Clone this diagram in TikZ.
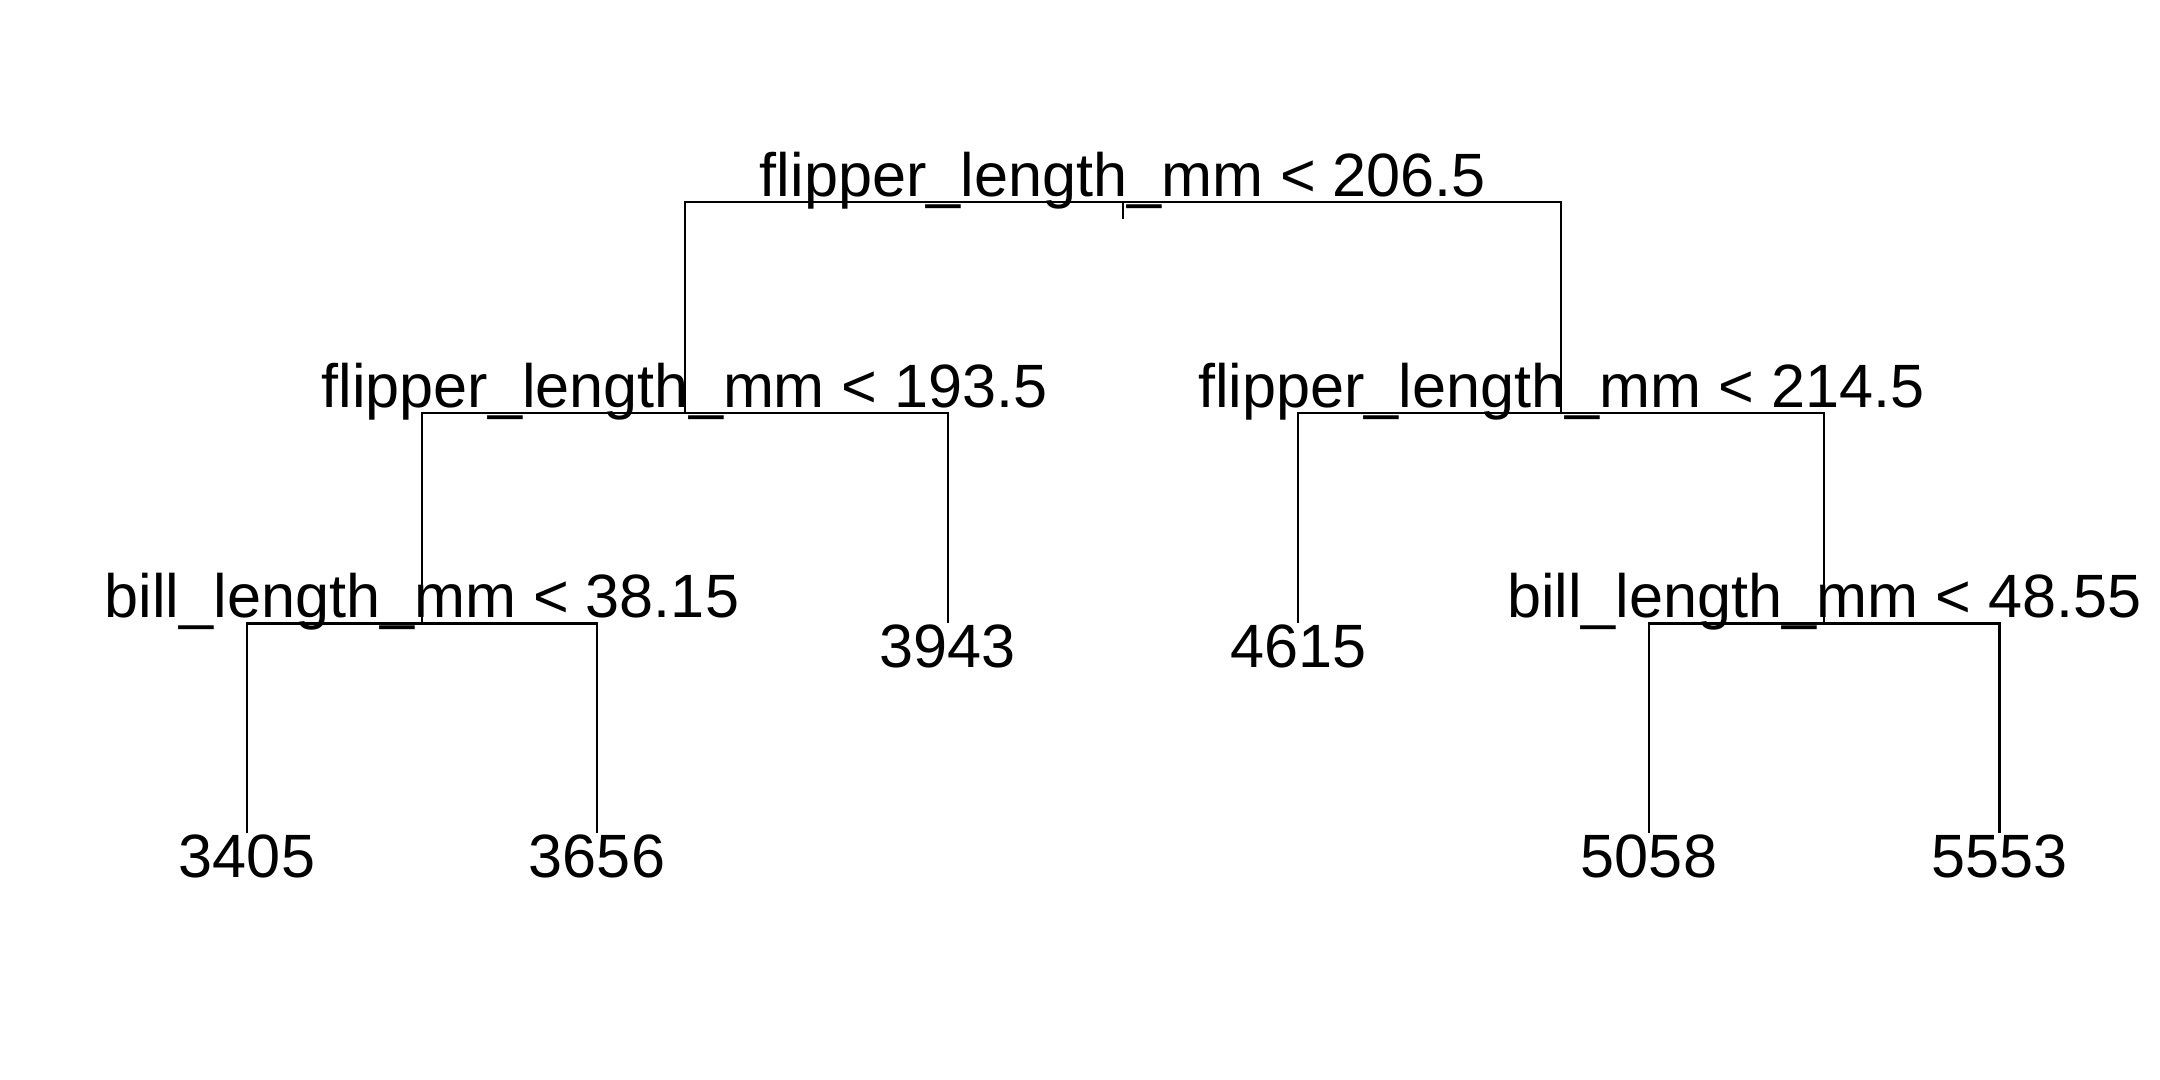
\documentclass[tikz,border=0pt]{standalone}
\usepackage{fontspec}
\setmainfont{Liberation Sans}
\tikzset{
    split/.style={anchor=base, inner sep=0pt, font=\fontsize{17.4}{20}\selectfont},
    leaf/.style={split},
    branch/.style={black, line width=0.6pt},
}
\begin{document}
\begin{tikzpicture}[x=0.01cm, y=-0.01cm]
    \useasboundingbox (0,0) rectangle (2160,1080);

    % Split points on the bars
    \coordinate (root) at (1123,202.3);
    \coordinate (rootstub) at (1123,219.3);
    \coordinate (fl1) at (684.8,412.7);
    \coordinate (fl2) at (1561.2,412.7);
    \coordinate (bl1) at (422,623.5);
    \coordinate (bl2) at (1824.2,623.5);

    % Split labels
    \node[split] (rootlab) at (1123,196.8) {flipper\_length\_mm < 206.5};
    \node[split] (fl1lab) at (684.8,407.2) {flipper\_length\_mm < 193.5};
    \node[split] (fl2lab) at (1561.2,407.2) {flipper\_length\_mm < 214.5};
    \node[split] (bl1lab) at (422,618) {bill\_length\_mm < 38.15};
    \node[split] (bl2lab) at (1824.2,618) {bill\_length\_mm < 48.55};

    % Leaves
    \foreach \n/\x/\y in {3405/247/833.5, 3656/597/833.5, 3943/947.8/623.5,
                          4615/1298.3/623.5, 5058/1649/833.5, 5553/1999.5/833.5} {
        \coordinate (end\n) at (\x,\y);
        \node[leaf] (leaf\n) at (\x,{\y+44}) {\n};
    }

    % Branches
    \draw[branch] (root) -- (rootstub);
    \draw[branch] (root) -| (fl1);
    \draw[branch] (root) -| (fl2);
    \draw[branch] (fl1) -| (bl1);
    \draw[branch] (fl1) -| (end3943);
    \draw[branch] (fl2) -| (end4615);
    \draw[branch] (fl2) -| (bl2);
    \draw[branch] (bl1) -| (end3405);
    \draw[branch] (bl1) -| (end3656);
    \draw[branch] (bl2) -| (end5058);
    \draw[branch] (bl2) -| (end5553);
\end{tikzpicture}
\end{document}
